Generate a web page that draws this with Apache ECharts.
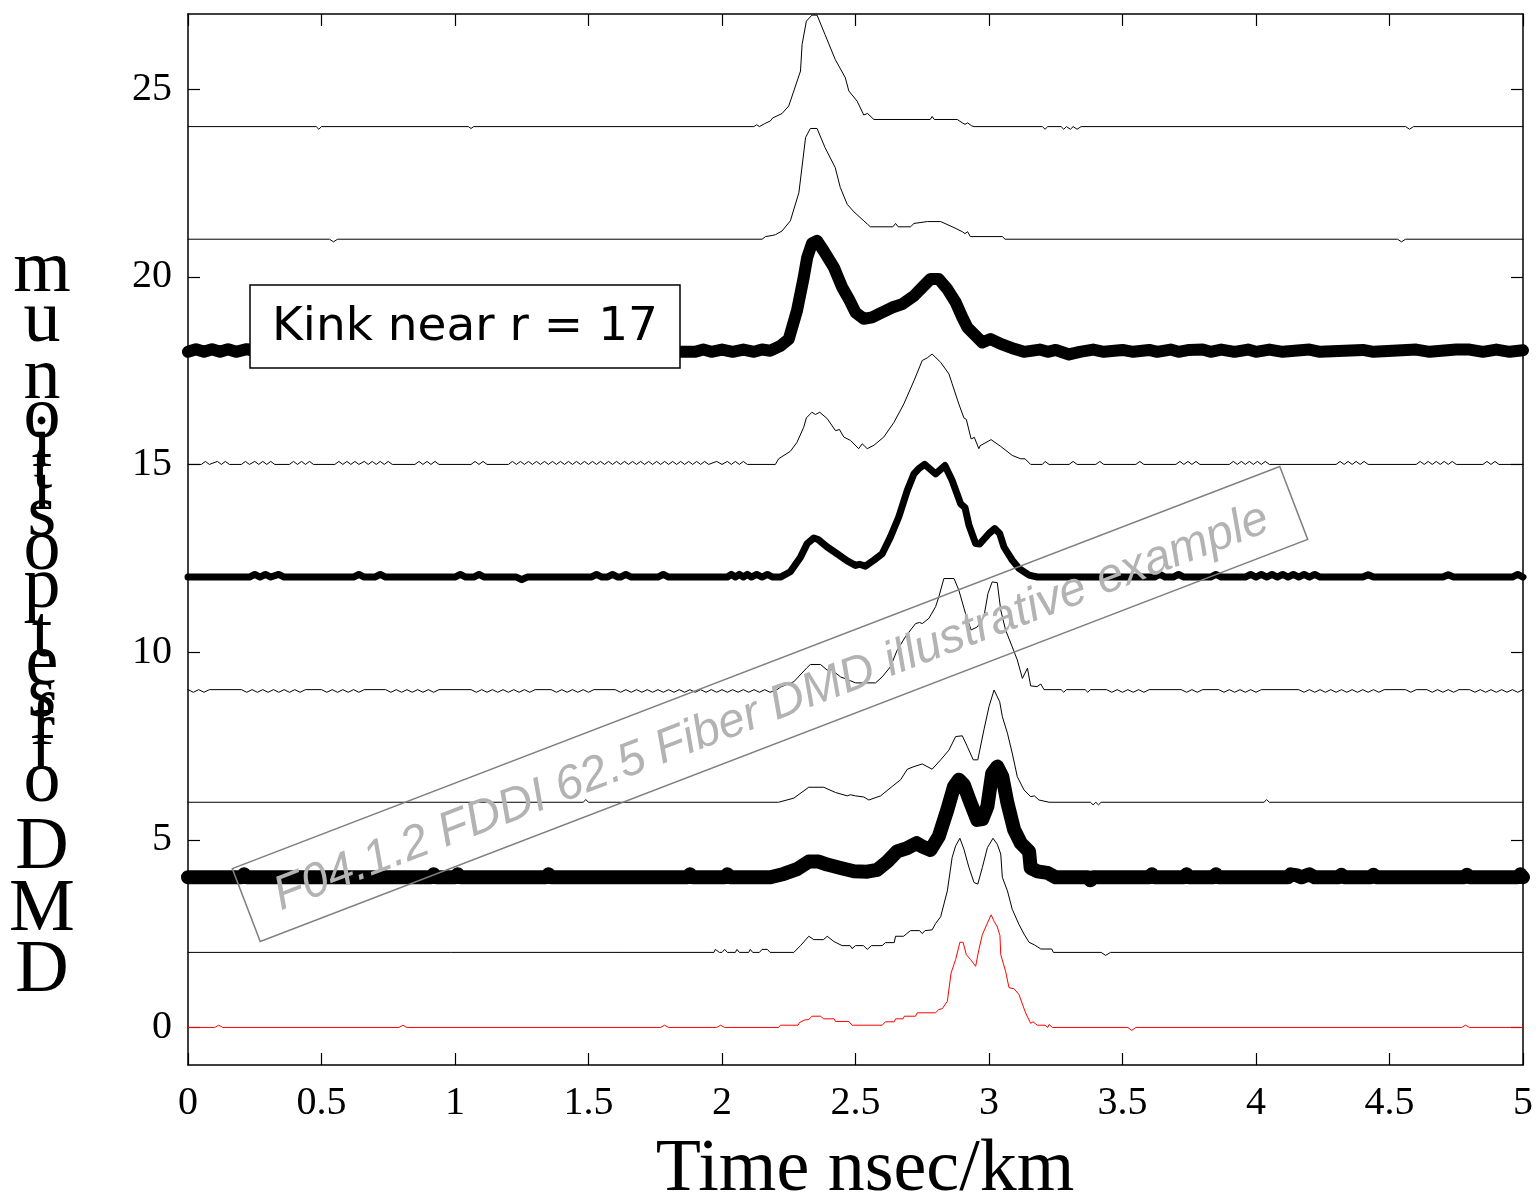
<!DOCTYPE html>
<html>
<head>
<meta charset="utf-8">
<title>DMD offset scan</title>
<script src="https://cdn.jsdelivr.net/npm/echarts@6/dist/echarts.min.js"></script>
<style>
  html, body { margin: 0; padding: 0; background: #fff; }
  #chart { width: 1537px; height: 1204px; }
</style>
</head>
<body>
<div id="chart"></div>
<script>
// Pulse shapes per radial launch offset: [time ns/km, offset + relative power]
const off0 = [[0,0],[0.10,0],[0.115,0.06],[0.13,0],[0.79,0],[0.805,0.06],[0.82,0],[1.77,0],[1.785,0.06],[1.80,0],[1.98,0],[1.995,0.06],[2.01,0],
  [2.212,0],[2.219,0.06],[2.285,0.06],[2.29,0.13],[2.31,0.2],[2.325,0.21],[2.337,0.3],[2.369,0.3],[2.381,0.23],[2.42,0.23],[2.425,0.16],[2.475,0.16],[2.487,0.06],
  [2.60,0.06],[2.612,0.15],[2.645,0.15],[2.65,0.23],[2.678,0.23],[2.683,0.3],[2.725,0.3],[2.731,0.39],[2.80,0.39],[2.812,0.48],[2.825,0.5],[2.844,0.7],
  [2.858,1.45],[2.875,1.81],[2.891,2.27],[2.903,2.27],[2.915,1.94],[2.931,1.81],[2.95,1.63],[2.962,2.07],[2.975,2.47],[2.994,2.78],[3.008,3.0],[3.019,2.83],
  [3.03,2.7],[3.041,2.45],[3.044,1.94],[3.062,1.5],[3.075,1.06],[3.094,1.03],[3.112,0.88],[3.137,0.39],[3.156,0.11],[3.165,0.15],[3.181,0.06],[3.21,0.06],
  [3.22,0],[3.225,0.08],[3.237,0],[3.52,0],[3.535,-0.08],[3.55,0],[4.77,0],[4.785,0.06],[4.80,0],[5,0]];

const off2 = [[0,2],[1.97,2],[1.975,2.08],[1.99,2],[2.0,2],[2.01,2.08],[2.02,2],[2.05,2],[2.056,2.08],[2.065,2],[2.10,2],[2.106,2.08],[2.115,2],
  [2.14,2],[2.15,2.08],[2.17,2.08],[2.18,2],[2.269,2],
  [2.294,2.18],[2.325,2.43],[2.344,2.34],[2.38,2.34],[2.394,2.43],[2.419,2.29],[2.45,2.18],[2.48,2.18],[2.487,2.1],[2.50,2.18],[2.53,2.18],[2.544,2.08],
  [2.56,2.18],[2.60,2.18],[2.612,2.26],[2.645,2.26],[2.65,2.43],[2.68,2.43],[2.706,2.58],[2.74,2.58],[2.75,2.5],[2.76,2.58],[2.787,2.6],[2.80,2.77],
  [2.819,2.95],[2.844,3.64],[2.862,4.53],[2.875,4.84],[2.891,5.04],[2.906,4.75],[2.925,4.26],[2.944,3.86],[2.958,3.82],[2.975,4.26],[2.994,4.79],
  [3.015,5.04],[3.031,4.88],[3.044,4.62],[3.05,4.0],[3.069,3.64],[3.087,3.15],[3.112,2.75],[3.131,2.49],[3.15,2.27],[3.17,2.2],[3.194,2.09],[3.235,2.09],
  [3.241,2],[3.42,2],[3.437,1.92],[3.455,2],[5,2]];

const off4 = [[0,4],[0.2,4],[0.21,4.08],[0.22,4],[0.91,4],[0.92,4.08],[0.93,4],[1.00,4],[1.01,4.08],[1.02,4],[1.34,4],[1.35,4.08],[1.36,4],
  [1.87,4],[1.88,4.08],[1.89,4],[2.01,4],[2.02,4.08],[2.03,4],[2.181,4],
  [2.231,4.09],[2.281,4.22],[2.325,4.42],[2.362,4.42],[2.394,4.34],[2.444,4.25],[2.494,4.16],[2.544,4.15],[2.581,4.2],[2.619,4.42],[2.656,4.69],
  [2.694,4.78],[2.729,4.91],[2.75,4.82],[2.781,4.73],[2.812,5.09],[2.844,5.8],[2.869,6.42],[2.887,6.6],[2.906,6.46],[2.931,5.98],[2.956,5.53],
  [2.975,5.55],[2.994,5.89],[3.012,6.77],[3.031,6.95],[3.05,6.68],[3.069,5.98],[3.094,5.27],[3.119,4.91],[3.15,4.69],[3.156,4.25],[3.181,4.16],
  [3.219,4.12],[3.25,4],[3.37,4],[3.38,3.92],[3.39,4],[3.60,4],[3.61,4.08],[3.62,4],[3.73,4],[3.74,4.08],[3.75,4],[3.84,4],[3.85,4.08],[3.86,4],
  [4.12,4],[4.13,4.08],[4.15,4.06],[4.17,4],[4.2,4.08],[4.22,4],[4.31,4],[4.32,4.07],[4.33,4],[4.43,4],[4.44,4.07],[4.45,4],[4.78,4],[4.79,4.07],
  [4.80,4],[4.98,4],[4.99,4.08],[5,4]];

const off6 = [[0,6],[1.48,6],[1.49,6.07],[1.50,6],[2.212,6],[2.269,6.11],[2.325,6.4],[2.381,6.4],[2.425,6.26],[2.469,6.17],[2.48,6.2],[2.50,6.17],
  [2.531,6.14],[2.55,6.06],[2.594,6.17],[2.637,6.42],[2.669,6.6],[2.694,6.88],[2.719,6.95],[2.75,7.02],[2.787,6.88],[2.819,7.13],[2.85,7.39],
  [2.875,7.75],[2.9,7.77],[2.919,7.48],[2.941,7.13],[2.958,7.13],[2.981,7.93],[3.0,8.55],[3.019,8.99],[3.04,8.68],[3.05,8.28],[3.069,7.84],
  [3.087,7.31],[3.106,6.68],[3.131,6.33],[3.156,6.15],[3.17,6.17],[3.187,6.06],[3.225,6],[3.38,6],[3.39,5.93],[3.40,6],[3.41,5.93],[3.42,6],
  [4.03,6],[4.04,6.07],[4.05,6],[5,6]];

const off9 = [[0,9],[0.02,8.93],[0.04,9],[0.06,8.93],[0.08,9],
  [0.2,9],[0.22,8.93],[0.24,9],[0.26,8.93],[0.28,9],[0.30,8.93],[0.32,9],[0.34,8.93],[0.36,9],[0.38,8.93],[0.40,9],[0.42,8.93],[0.44,9],
  [0.5,9],[0.52,8.93],[0.54,9],[0.56,8.93],[0.58,9],[0.60,8.93],[0.62,9],[0.64,8.93],[0.66,9],
  [0.74,9],[0.76,8.93],[0.78,9],[0.80,8.93],[0.82,9],[0.84,8.93],[0.86,9],[0.88,8.93],[0.90,9],[0.92,8.93],[0.94,9],
  [1.06,9],[1.08,8.93],[1.10,9],[1.12,8.93],[1.14,9],[1.16,8.93],[1.18,9],[1.20,8.93],[1.22,9],[1.24,8.93],[1.26,9],[1.28,8.93],[1.30,9],
  [1.36,9],[1.38,8.93],[1.40,9],[1.42,8.93],[1.44,9],[1.46,8.93],[1.48,9],[1.50,8.93],[1.52,9],
  [1.60,9],[1.62,8.93],[1.64,9],[1.66,8.93],[1.68,9],[1.70,8.93],[1.72,9],[1.74,8.93],[1.76,9],[1.78,8.93],[1.80,9],[1.82,8.93],[1.84,9],
  [1.86,8.93],[1.88,9],[1.90,8.93],[1.92,9],[1.94,8.93],[1.96,9],[1.98,8.93],[2.00,9],[2.02,8.93],[2.04,9],[2.06,8.93],[2.08,9],[2.10,8.93],
  [2.12,9],[2.14,8.93],[2.16,9],[2.18,8.93],[2.206,9],
  [2.22,9.07],[2.269,9.21],[2.319,9.59],[2.331,9.67],[2.369,9.67],[2.394,9.52],[2.41,9.53],[2.444,9.34],[2.48,9.24],[2.5,9.18],[2.575,9.18],
  [2.6,9.34],[2.631,9.61],[2.656,10.05],[2.687,10.41],[2.725,10.76],[2.74,10.79],[2.75,10.76],[2.775,10.9],[2.8,11.21],[2.812,11.47],[2.831,11.96],
  [2.869,11.96],[2.887,11.65],[2.912,11.03],[2.933,10.59],[2.956,10.67],[2.981,10.94],[2.996,11.56],[3.012,11.87],[3.031,11.85],[3.044,11.12],
  [3.062,10.59],[3.087,10.14],[3.106,9.79],[3.125,9.3],[3.144,9.57],[3.156,9.1],[3.18,9.08],[3.194,9.15],[3.206,9.0],
  [3.27,9],[3.28,8.93],[3.29,9],[3.36,9],[3.37,8.93],[3.38,9],[3.44,9],[3.46,8.93],[3.48,9],[3.50,8.93],[3.52,9],[3.54,8.93],[3.56,9],[3.58,8.93],
  [3.60,9],[3.72,9],[3.74,8.93],[3.76,9],[3.78,8.93],[3.80,9],[3.86,9],[3.88,8.93],[3.90,9],[3.92,8.93],[3.94,9],[3.96,8.93],[3.98,9],[4.00,8.93],
  [4.02,9],[4.16,9],[4.18,8.93],[4.20,9],[4.22,8.93],[4.24,9],[4.26,8.93],[4.28,9],[4.30,8.93],[4.32,9],[4.34,8.93],[4.36,9],[4.38,8.93],[4.40,9],
  [4.42,8.93],[4.44,9],[4.46,8.93],[4.48,9],[4.56,9],[4.58,8.93],[4.60,9],[4.64,9],[4.66,8.93],[4.68,9],[4.70,8.93],[4.72,9],[4.74,8.93],[4.76,9],
  [4.80,9],[4.82,8.93],[4.84,9],[4.86,8.93],[4.88,9],[4.90,8.93],[4.92,9],[4.94,8.93],[4.96,9],[4.98,8.93],[5,9]];

const off12 = [[0,12],[0.23,12],[0.25,12.07],[0.27,12],[0.29,12.07],[0.31,12],[0.34,12.07],[0.36,12],[0.62,12],[0.64,12.07],[0.66,12],[0.70,12],
  [0.72,12.07],[0.74,12],[1.0,12],[1.02,12.07],[1.04,12],[1.07,12],[1.09,12.07],[1.11,12],[1.23,12],[1.25,11.93],[1.27,12],[1.51,12],[1.53,12.07],
  [1.55,12],[1.57,12],[1.59,12.07],[1.61,12],[1.62,12],[1.64,12.07],[1.66,12],[1.76,12],[1.78,12.07],[1.80,12],[2.02,12],[2.035,12.07],[2.05,12],
  [2.065,12.07],[2.08,12],[2.095,12.07],[2.11,12],[2.13,12.07],[2.15,12],[2.17,12.07],[2.19,12],[2.219,12],
  [2.256,12.14],[2.294,12.53],[2.319,12.89],[2.344,13.04],[2.36,13.0],[2.394,12.8],[2.431,12.62],[2.469,12.43],[2.5,12.31],[2.515,12.34],
  [2.537,12.29],[2.569,12.45],[2.6,12.62],[2.631,13.07],[2.662,13.6],[2.694,14.31],[2.719,14.75],[2.737,14.89],[2.759,15.0],[2.8,14.75],
  [2.835,14.97],[2.862,14.57],[2.894,13.95],[2.91,13.85],[2.925,13.38],[2.95,12.89],[2.965,12.88],[3.0,13.16],[3.021,13.29],[3.04,13.16],
  [3.056,12.8],[3.087,12.45],[3.112,12.23],[3.15,12.05],[3.181,12],
  [3.62,12],[3.64,12.07],[3.66,12],[3.69,12],[3.71,12.07],[3.73,12],[3.83,12],[3.85,12.07],[3.87,12],[3.96,12],[3.98,12.07],[4.0,12],[4.02,12.07],
  [4.04,12],[4.06,12.07],[4.08,12],[4.1,12.07],[4.12,12],[4.14,12.07],[4.16,12],[4.18,12.07],[4.2,12],[4.22,12.07],[4.24,12],[4.4,12],[4.42,12.06],
  [4.44,12],[4.7,12],[4.72,12.06],[4.74,12],[4.96,12],[4.98,12.07],[5,12]];

const off15 = [[0,15],[0.05,15],[0.065,15.08],[0.08,15],[0.11,15.08],[0.125,15],[0.14,15.08],[0.155,15],[0.2,15],[0.215,15.08],[0.23,15],
  [0.25,15.08],[0.265,15],[0.28,15.08],[0.295,15],[0.31,15.08],[0.325,15],[0.38,15],[0.395,15.08],[0.41,15],[0.425,15.08],[0.44,15],[0.455,15.08],
  [0.47,15],[0.55,15],[0.565,15.08],[0.58,15],[0.595,15.08],[0.61,15],[0.625,15.08],[0.64,15],[0.66,15.08],[0.675,15],[0.69,15.08],[0.705,15],
  [0.72,15.08],[0.735,15],[0.75,15.08],[0.765,15],[0.85,15],[0.865,15.08],[0.88,15],[0.895,15.08],[0.91,15],[0.925,15.08],[0.94,15],
  [1.06,15],[1.075,15.08],[1.09,15],[1.105,15.08],[1.12,15],[1.2,15],[1.215,15.08],[1.23,15],[1.245,15.08],[1.26,15],[1.275,15.08],[1.29,15],
  [1.305,15.08],[1.32,15],[1.335,15.08],[1.35,15],[1.365,15.08],[1.38,15],[1.395,15.08],[1.41,15],[1.425,15.08],[1.44,15],[1.455,15.08],[1.47,15],
  [1.485,15.08],[1.5,15],[1.515,15.08],[1.53,15],[1.545,15.08],[1.56,15],[1.575,15.08],[1.59,15],[1.605,15.08],[1.62,15],[1.635,15.08],[1.65,15],
  [1.665,15.08],[1.68,15],[1.695,15.08],[1.71,15],[1.725,15.08],[1.74,15],[1.755,15.08],[1.77,15],[1.785,15.08],[1.8,15],[1.815,15.08],[1.83,15],
  [1.845,15.08],[1.86,15],[1.875,15.08],[1.89,15],[1.905,15.08],[1.92,15],[1.935,15.08],[1.95,15],[1.98,15.08],[2.0,15],[2.02,15.08],[2.035,15],
  [2.05,15.08],[2.065,15],[2.08,15.08],[2.095,15],[2.2,15],
  [2.212,15.15],[2.256,15.35],[2.281,15.59],[2.306,15.99],[2.316,16.24],[2.337,16.39],[2.35,16.33],[2.366,16.39],[2.394,16.22],[2.425,15.9],
  [2.44,15.93],[2.456,15.73],[2.481,15.64],[2.512,15.42],[2.525,15.55],[2.544,15.42],[2.569,15.51],[2.606,15.73],[2.644,16.12],[2.681,16.61],
  [2.719,17.23],[2.75,17.77],[2.769,17.84],[2.787,17.94],[2.819,17.72],[2.85,17.41],[2.862,17.15],[2.887,16.61],[2.906,16.24],[2.915,16.2],
  [2.933,15.68],[2.945,15.72],[2.962,15.42],[2.967,15.5],[3.008,15.66],[3.044,15.48],[3.087,15.24],[3.119,15.15],[3.135,15.15],[3.156,15],
  [3.2,15],[3.21,15.08],[3.225,15],[3.3,15],[3.315,15.08],[3.33,15],[3.4,15],[3.415,15.08],[3.43,15],[3.55,15],[3.565,15.08],[3.58,15],
  [3.7,15],[3.715,15.08],[3.73,15],[3.745,15.08],[3.76,15],[3.775,15.08],[3.79,15],[3.9,15],[3.915,15.08],[3.93,15],[3.945,15.08],[3.96,15],
  [3.975,15.08],[3.99,15],[4.005,15.08],[4.02,15],[4.035,15.08],[4.05,15],[4.3,15],[4.315,15.08],[4.33,15],[4.345,15.08],[4.36,15],[4.375,15.08],
  [4.39,15],[4.405,15.08],[4.42,15],[4.6,15],[4.615,15.08],[4.63,15],[4.645,15.08],[4.66,15],[4.675,15.08],[4.69,15],[4.705,15.08],[4.72,15],
  [4.735,15.08],[4.75,15],[4.85,15],[4.865,15.08],[4.88,15],[4.895,15.08],[4.91,15],[5,15]];

const off18 = [[0,18],[0.03,18.07],[0.06,18],[0.09,18.07],[0.12,18],[0.15,18.07],[0.18,18],[0.22,18.07],[0.26,18],[0.30,18.07],[0.34,18],
  [0.38,18.06],[0.42,18],[1.9,18],[1.93,18.06],[1.96,18],[2.0,18.06],[2.04,18],[2.08,18.06],[2.12,18],[2.15,18.06],[2.181,18.03],
  [2.219,18.16],[2.25,18.34],[2.281,19.1],[2.306,19.98],[2.319,20.51],[2.337,20.89],[2.356,20.96],[2.381,20.69],[2.419,20.25],[2.45,19.72],
  [2.475,19.41],[2.5,19.05],[2.531,18.88],[2.562,18.92],[2.6,19.05],[2.637,19.18],[2.675,19.27],[2.719,19.49],[2.756,19.76],[2.781,19.94],
  [2.812,19.94],[2.844,19.67],[2.875,19.32],[2.9,18.92],[2.919,18.65],[2.95,18.43],[2.975,18.25],[3.006,18.34],[3.044,18.21],[3.094,18.08],
  [3.131,18],[3.19,18.06],[3.22,18],[3.25,18.05],[3.30,17.93],[3.34,18],[3.39,18.06],[3.43,18],[3.5,18.05],[3.54,18],[3.6,18.05],[3.63,18],
  [3.68,18.06],[3.71,18],[3.75,18.05],[3.8,18.06],[3.83,18],[3.87,18.06],[3.92,18],[3.97,18.06],[4.0,18],[4.05,18.06],[4.1,18],[4.2,18.06],
  [4.24,18],[4.4,18.05],[4.44,18],[4.6,18.06],[4.65,18],[4.75,18.06],[4.8,18.06],[4.85,18],[4.9,18.06],[4.95,18],[5,18.04]];

const off21 = [[0,21],[0.53,21],[0.545,20.93],[0.56,21],[2.15,21],[2.163,21.07],[2.188,21.1],[2.2,21.12],[2.225,21.22],[2.256,21.49],[2.288,22.24],
  [2.313,23.71],[2.331,23.95],[2.356,23.95],[2.386,23.44],[2.424,22.91],[2.43,22.95],[2.443,22.38],[2.469,21.93],[2.494,21.73],[2.531,21.49],
  [2.545,21.4],[2.556,21.33],[2.64,21.33],[2.65,21.42],[2.66,21.33],[2.706,21.33],[2.719,21.42],[2.769,21.47],[2.819,21.47],[2.869,21.31],
  [2.90,21.2],[2.91,21.15],[2.92,21.2],[2.93,21.07],[3.05,21.07],[3.06,21],[4.53,21],[4.545,20.93],[4.56,21],[5,21]];

const off24 = [[0,24],[0.48,24],[0.49,23.93],[0.50,24],[1.05,24],[1.06,23.95],[1.07,24],[2.119,24],[2.13,24.05],[2.14,24],[2.16,24.08],
  [2.181,24.15],[2.19,24.23],[2.225,24.35],[2.25,24.55],[2.269,24.95],[2.294,25.48],[2.30,26.19],[2.316,26.81],[2.337,26.97],[2.356,26.97],
  [2.386,26.45],[2.424,25.79],[2.462,25.3],[2.475,24.95],[2.506,24.68],[2.531,24.31],[2.545,24.35],[2.569,24.19],[2.78,24.19],[2.787,24.27],
  [2.795,24.19],[2.881,24.19],[2.90,24.1],[2.91,24.06],[2.92,24.1],[2.935,24.02],[2.944,24],[3.20,24],[3.21,23.93],[3.22,24],[3.27,24],
  [3.28,23.93],[3.29,24],[3.305,23.93],[3.315,24],[3.33,23.93],[3.345,24],[4.56,24],[4.575,23.93],[4.59,24],[5,24]];

const xTicks = [0, 0.5, 1, 1.5, 2, 2.5, 3, 3.5, 4, 4.5, 5];
const yTicks = [0, 5, 10, 15, 20, 25];

const xTitle = 'Time nsec/km';
const yTitle = 'DMD offset position um';
const noteText = 'Kink near r = 17';
const stampText = 'F04.1.2 FDDI 62.5 Fiber DMD illustrative example';

// [data, colour, width]
const traces = [
  [off0, '#ff0000', 1],
  [off2, '#000', 1],
  [off4, '#000', 14],
  [off6, '#000', 1],
  [off9, '#000', 1],
  [off12, '#000', 7],
  [off15, '#000', 1],
  [off18, '#000', 12],
  [off21, '#000', 1],
  [off24, '#000', 1]
];

const chart = echarts.init(document.getElementById('chart'), null, { renderer: 'canvas' });

const serif = '"Liberation Serif", "Times New Roman", serif';
const axisLineStyle = { color: '#000', width: 1.5 };

// upright glyphs of the vertical axis title, stacked bottom to top
function verticalTitle() {
  const size = 74;
  const ctx = document.createElement('canvas').getContext('2d');
  ctx.font = size + 'px ' + serif;
  const chars = Array.from(yTitle);
  const w = chars.map(c => ctx.measureText(c).width);
  let span = 0;
  for (let i = 0; i < chars.length - 1; i++) span += (w[i] + w[i + 1]) / 2;
  const yBottom = 972, yTop = 272;
  const k = (yBottom - yTop) / span;
  const els = [];
  let y = yBottom;
  for (let i = 0; i < chars.length; i++) {
    if (chars[i] !== ' ') {
      els.push({
        type: 'text', x: 42, y: y, z: 50,
        style: { text: chars[i], font: size + 'px ' + serif, fill: '#000', align: 'center', verticalAlign: 'middle' }
      });
    }
    if (i < chars.length - 1) y -= (w[i] + w[i + 1]) / 2 * k;
  }
  return els;
}

const stampAngle = 21 * Math.PI / 180;

const option = {
  animation: false,
  backgroundColor: '#fff',
  grid: { left: 188, right: 14, top: 14, bottom: 139 },
  xAxis: [
    {
      type: 'value', min: 0, max: 5, interval: 0.5, position: 'bottom',
      axisLine: { show: true, onZero: false, lineStyle: axisLineStyle },
      axisTick: { show: true, inside: true, length: 12, lineStyle: { color: '#000', width: 1.2 } },
      axisLabel: { show: true, customValues: xTicks, margin: 18, fontFamily: serif, fontSize: 40, color: '#000', showMinLabel: true, showMaxLabel: true },
      splitLine: { show: false }
    },
    {
      type: 'value', min: 0, max: 5, interval: 0.5, position: 'top',
      axisLine: { show: true, onZero: false, lineStyle: axisLineStyle },
      axisTick: { show: true, inside: true, length: 12, lineStyle: { color: '#000', width: 1.2 } },
      axisLabel: { show: false },
      splitLine: { show: false }
    }
  ],
  yAxis: [
    {
      type: 'value', min: -1, max: 27, position: 'left',
      axisLine: { show: true, onZero: false, lineStyle: axisLineStyle },
      axisTick: { show: true, inside: true, length: 12, customValues: yTicks, lineStyle: { color: '#000', width: 1.2 } },
      axisLabel: { show: true, customValues: yTicks, margin: 16, fontFamily: serif, fontSize: 40, color: '#000' },
      splitLine: { show: false }
    },
    {
      type: 'value', min: -1, max: 27, position: 'right',
      axisLine: { show: true, onZero: false, lineStyle: axisLineStyle },
      axisTick: { show: true, inside: true, length: 12, customValues: yTicks, lineStyle: { color: '#000', width: 1.2 } },
      axisLabel: { show: false },
      splitLine: { show: false }
    }
  ],
  series: traces.map(([data, color, width], i) => ({
    type: 'line',
    xAxisIndex: 0,
    yAxisIndex: 0,
    data: data,
    showSymbol: false,
    symbol: 'none',
    z: 2 + i,
    lineStyle: { color: color, width: width, cap: 'round', join: 'round' }
  })),
  graphic: [
    ...verticalTitle(),
    {
      type: 'text', x: 865, y: 1171, z: 50,
      style: { text: xTitle, font: '74px ' + serif, fill: '#000', align: 'center', verticalAlign: 'middle' }
    },
    {
      type: 'group', z: 60,
      children: [
        { type: 'rect', z: 60, shape: { x: 250, y: 285, width: 430, height: 83 }, style: { fill: '#fff', stroke: '#000', lineWidth: 1.5 } },
        { type: 'text', z: 61, x: 465, y: 328, style: { text: noteText, font: '47px "DejaVu Sans", sans-serif', fill: '#000', align: 'center', verticalAlign: 'middle' } }
      ]
    },
    {
      type: 'group', x: 770, y: 704, rotation: stampAngle, z: 70,
      children: [
        { type: 'rect', z: 70, shape: { x: -561, y: -39, width: 1122, height: 78 }, style: { fill: 'rgba(0,0,0,0)', stroke: '#7f7f7f', lineWidth: 1.5 } },
        { type: 'text', z: 71, x: 0, y: 4, style: { text: stampText, font: 'italic 48px "Liberation Sans", Arial, sans-serif', fill: '#b3b3b3', align: 'center', verticalAlign: 'middle' } }
      ]
    }
  ]
};

chart.setOption(option);
</script>
</body>
</html>
